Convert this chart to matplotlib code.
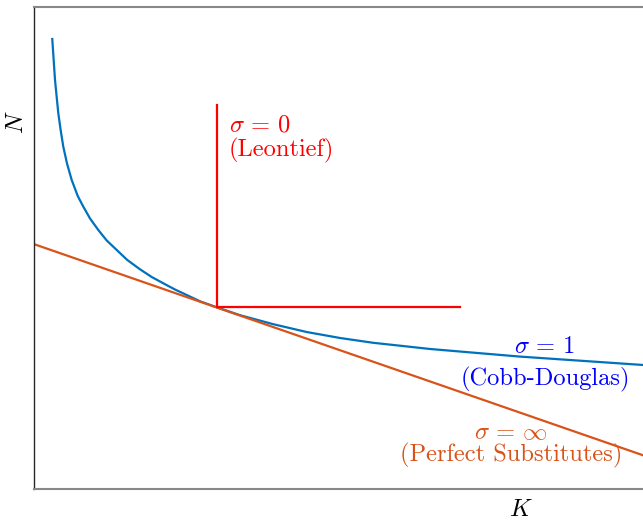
import numpy as np
import matplotlib
matplotlib.use('Agg')
import matplotlib.pyplot as plt

plt.rcParams['font.family'] = ['cmr10', 'DejaVu Sans']
plt.rcParams['mathtext.fontset'] = 'cm'
plt.rcParams['axes.unicode_minus'] = False

# Cobb-Douglas isoquant, tangent to the linear one at (3, 3.77)
cd_K = [0.300, 0.345, 0.399, 0.440, 0.481, 0.542, 0.619, 0.718, 0.810, 0.920,
        1.056, 1.194, 1.358, 1.532, 1.741, 1.933, 2.123, 2.315, 2.507, 2.726,
        3.000, 3.383, 3.929, 4.478, 5.025, 5.571, 6.010, 6.502, 7.980, 10.0]
cd_N = [9.336, 8.485, 7.795, 7.427, 7.102, 6.753, 6.411, 6.079, 5.857, 5.612,
        5.373, 5.156, 4.959, 4.751, 4.558, 4.398, 4.268, 4.139, 4.025, 3.894,
        3.770, 3.606, 3.419, 3.257, 3.133, 3.033, 2.973, 2.905, 2.747, 2.573]

# Leontief corner
leon_K = [3.0, 3.0, 7.0]
leon_N = [7.97, 3.77, 3.77]

# perfect substitutes
subs_K = [0.0, 10.0]
subs_N = [5.08, 0.70]

blue = '#0072BD'
orange = '#D95319'
red = '#FF0000'

fig = plt.figure(figsize=(6.43, 5.21), dpi=100)
ax = fig.add_axes([34 / 643, 32 / 521, 609 / 643, 482 / 521])

ax.plot(cd_K, cd_N, color=blue, lw=1.6)
ax.plot(subs_K, subs_N, color=orange, lw=1.6)
ax.plot(leon_K, leon_N, color=red, lw=1.6)

fs = 17.6
ax.text(3.2, 7.41, r'$\sigma\,=\,0$', color=red, fontsize=fs, ha='left', va='baseline')
ax.text(3.2, 6.89, '(Leontief)', color=red, fontsize=fs, ha='left', va='baseline')
ax.text(8.39, 2.82, r'$\sigma\,=\,1$', color='#0000FF', fontsize=fs, ha='center', va='baseline')
ax.text(8.39, 2.14, '(Cobb-Douglas)', color='#0000FF', fontsize=fs, ha='center', va='baseline')
ax.text(7.83, 1.04, r'$\sigma\,=\,\infty$', color=orange, fontsize=fs, ha='center', va='baseline')
ax.text(7.83, 0.58, '(Perfect Substitutes)', color=orange, fontsize=fs, ha='center', va='baseline')

ax.set_xlim(0, 10)
ax.set_ylim(0, 10)
ax.set_xticks([])
ax.set_yticks([])

fig.text(521 / 643, 1 - 510 / 521, r'$K$', fontsize=fs, ha='center', va='center')
fig.text(17 / 643, 1 - 122 / 521, r'$N$', fontsize=fs, rotation=90, ha='center', va='center')

ax.spines['right'].set_visible(False)
ax.spines['left'].set_color('#262626')
ax.spines['left'].set_linewidth(1.0)
for s in ['top', 'bottom']:
    ax.spines[s].set_color('#888888')
    ax.spines[s].set_linewidth(1.5)

fig.savefig('out.png', dpi=100)
